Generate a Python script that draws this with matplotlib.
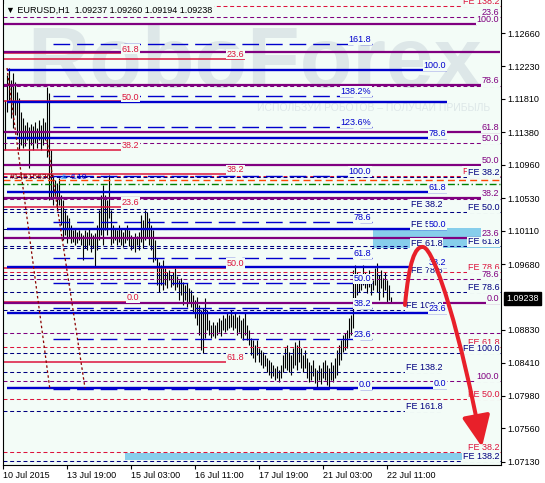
import matplotlib
matplotlib.use('Agg')
import matplotlib.pyplot as plt
from matplotlib.patches import Rectangle, FancyArrowPatch
from matplotlib.path import Path

plt.rcParams['font.family'] = ['Liberation Sans', 'DejaVu Sans']

BG = '#F3FCF7'
PURPLE = '#800080'
BLUE = '#0000CD'
NAVY = '#000080'
RED = '#DC143C'

# ---------------- data ----------------
highs = [
    1.1180, 1.1212, 1.1221, 1.1205, 1.1214, 1.1203, 1.1190, 1.1182, 1.1164, 1.1156,
    1.1147, 1.1151, 1.1145, 1.1149, 1.1146, 1.1151, 1.1144, 1.1154, 1.1147, 1.1156,
    1.1151, 1.1196, 1.1189, 1.1115, 1.1083, 1.1076, 1.1073, 1.1079, 1.1057, 1.1051,
    1.1038, 1.1031, 1.1027, 1.1018, 1.1012, 1.1015, 1.1009, 1.1012, 1.1008, 1.1006,
    1.1012, 1.1009, 1.1015, 1.1008, 1.1006, 1.1008, 1.1018, 1.1038, 1.1057, 1.1070,
    1.1057, 1.1051, 1.1083, 1.1038, 1.1018, 1.1015, 1.1012, 1.1018, 1.1015, 1.1009,
    1.1015, 1.1018, 1.1012, 1.1006, 1.1003, 1.1008, 1.1004, 1.1009, 1.1031, 1.1025,
    1.1038, 1.1035, 1.1027, 1.1018, 1.1012, 1.0999, 1.0976, 1.0971, 1.0967, 1.0973,
    1.0963, 1.0958, 1.0960, 1.0954, 1.0958, 1.0963, 1.0953, 1.0947, 1.0950, 1.0945,
    1.0941, 1.0944, 1.0937, 1.0935, 1.0928, 1.0922, 1.0926, 1.0915, 1.0909, 1.0911,
    1.0924, 1.0909, 1.0896, 1.0889, 1.0893, 1.0889, 1.0893, 1.0898, 1.0896, 1.0902,
    1.0898, 1.0906, 1.0902, 1.0909, 1.0902, 1.0906, 1.0900, 1.0902, 1.0896, 1.0898,
    1.0905, 1.0889, 1.0883, 1.0873, 1.0870, 1.0864, 1.0870, 1.0860, 1.0857, 1.0855,
    1.0851, 1.0847, 1.0844, 1.0842, 1.0838, 1.0834, 1.0836, 1.0831, 1.0838, 1.0851,
    1.0860, 1.0864, 1.0855, 1.0851, 1.0860, 1.0867, 1.0864, 1.0870, 1.0860, 1.0851,
    1.0857, 1.0847, 1.0842, 1.0838, 1.0844, 1.0834, 1.0831, 1.0838, 1.0834, 1.0842,
    1.0844, 1.0838, 1.0834, 1.0842, 1.0838, 1.0847, 1.0857, 1.0864, 1.0870, 1.0876,
    1.0879, 1.0883, 1.0898, 1.0902, 1.0960, 1.0967, 1.0958, 1.0947, 1.0954, 1.0967,
    1.0958, 1.0950, 1.0960, 1.0954, 1.0947, 1.0963, 1.0969, 1.0954, 1.0960, 1.0950,
    1.0958, 1.0947, 1.0941, 1.0926]

lows = [
    1.1115, 1.1164, 1.1180, 1.1156, 1.1144, 1.1160, 1.1134, 1.1115, 1.1122, 1.1118,
    1.1120, 1.1128, 1.1092, 1.1122, 1.1115, 1.1124, 1.1118, 1.1128, 1.1115, 1.1122,
    1.1128, 1.1106, 1.1051, 1.1055, 1.1044, 1.1057, 1.1038, 1.1044, 1.1018, 1.0999,
    1.1006, 1.0995, 1.1002, 1.0995, 1.0996, 1.0993, 1.0995, 1.0999, 1.0993, 1.0973,
    1.0989, 1.0986, 1.0993, 1.0984, 1.0989, 1.0964, 1.0986, 1.0999, 1.1006, 1.0993,
    1.1012, 1.1006, 1.1027, 1.0993, 1.0995, 1.0999, 1.0993, 1.0996, 1.0993, 1.0990,
    1.0995, 1.0999, 1.0991, 1.0986, 1.0989, 1.0984, 1.0993, 1.0986, 1.0996, 1.0989,
    1.0999, 1.1002, 1.0993, 1.0986, 1.0971, 1.0973, 1.0941, 1.0932, 1.0941, 1.0935,
    1.0941, 1.0937, 1.0947, 1.0938, 1.0941, 1.0935, 1.0938, 1.0922, 1.0928, 1.0915,
    1.0922, 1.0913, 1.0918, 1.0913, 1.0906, 1.0898, 1.0889, 1.0876, 1.0857, 1.0853,
    1.0873, 1.0883, 1.0876, 1.0873, 1.0875, 1.0873, 1.0876, 1.0880, 1.0875, 1.0883,
    1.0880, 1.0883, 1.0886, 1.0887, 1.0883, 1.0886, 1.0876, 1.0880, 1.0873, 1.0870,
    1.0876, 1.0870, 1.0864, 1.0851, 1.0847, 1.0842, 1.0851, 1.0842, 1.0838, 1.0834,
    1.0836, 1.0829, 1.0825, 1.0821, 1.0824, 1.0818, 1.0821, 1.0816, 1.0821, 1.0829,
    1.0834, 1.0831, 1.0829, 1.0825, 1.0834, 1.0838, 1.0831, 1.0842, 1.0834, 1.0829,
    1.0834, 1.0821, 1.0816, 1.0818, 1.0824, 1.0815, 1.0809, 1.0818, 1.0813, 1.0821,
    1.0818, 1.0812, 1.0809, 1.0818, 1.0816, 1.0821, 1.0825, 1.0838, 1.0844, 1.0855,
    1.0857, 1.0860, 1.0873, 1.0876, 1.0886, 1.0924, 1.0928, 1.0932, 1.0935, 1.0941,
    1.0937, 1.0931, 1.0938, 1.0928, 1.0935, 1.0941, 1.0932, 1.0922, 1.0937, 1.0926,
    1.0935, 1.0919, 1.0922, 1.0919]

x_tick_pos = [-1, 31, 63, 95, 127, 159, 191]
x_tick_labels = ['10 Jul 2015', '13 Jul 19:00', '15 Jul 03:00', '16 Jul 11:00',
                 '17 Jul 19:00', '21 Jul 03:00', '22 Jul 11:00']
y_ticks = [1.12660, 1.12230, 1.11810, 1.11380, 1.10960, 1.10530, 1.10110,
           1.09680, 1.08830, 1.08410, 1.07980, 1.07560, 1.07130]
last_price = 1.09238
title_text = '\u25BC EURUSD,H1  1.09237 1.09260 1.09194 1.09238'

# Fibonacci levels (prices) and their labels
purple_solid_levels = [1.12776, 1.12415, 1.11996, 1.11383, 1.10958, 1.10532, 1.10016, 1.09177]
purple_solid_labels = ['100.0', '', '78.6', '61.8', '50.0', '38.2', '23.6', '0.0']
purple_dash_levels = [1.12867, 1.11977, 1.11241, 1.10519, 1.09487, 1.08790, 1.08171]
purple_dash_labels = ['23.6', '38.2', '50.0', '61.8', '78.6', '', '100.0']
red_a_levels = [1.12396, 1.11777, 1.11151, 1.10416, 1.09190]
red_a_labels = ['61.8', '50.0', '38.2', '23.6', '0.0']
red_b_levels = [1.12331, 1.10841, 1.09629, 1.08416]
red_b_labels = ['23.6', '38.2', '50.0', '61.8']
blue_solid_levels = [1.12183, 1.11770, 1.11306, 1.10609, 1.10132, 1.09642, 1.09048, 1.08081]
blue_solid_labels = ['100.0', '', '78.6', '61.8', '50.0', '38.2', '23.6', '0.0']
blue_dash_levels = [1.12518, 1.11848, 1.11448, 1.10816, 1.10222, 1.09758, 1.09435,
                    1.09113, 1.08713, 1.08068]
blue_dash_labels = ['161.8', '138.2%', '123.6%', '100.0', '78.6', '61.8', '50.0',
                    '38.2', '23.6', '0.0']
navy1_levels = [1.10803, 1.10351, 1.09912, 1.09319, 1.08532, 1.07139]
navy1_labels = ['FE 38.2', 'FE 50.0', 'FE 61.8', 'FE 78.6', 'FE 100.0', 'FE 138.2']
navy2_levels = [1.10390, 1.10132, 1.09887, 1.09539, 1.09087, 1.08287, 1.07784]
navy2_labels = ['FE 38.2', 'FE 50.0', 'FE 61.8', 'FE 78.6', 'FE 100.0', 'FE 138.2', 'FE 161.8']
red_fe_levels = [1.13009, 1.10816, 1.09577, 1.08610, 1.07939, 1.07255]
red_fe_labels = ['FE 138.2', 'FE 100.0', 'FE 78.6', 'FE 61.8', 'FE 50.0', 'FE 38.2']
orange_level = 1.10764
green_level = 1.10712

# trend lines (bar index, price)
trend1_x = [1, 22.5]
trend1_y = [1.12209, 1.08055]
trend2_x = [21, 40]
trend2_y = [1.11280, 1.08081]

# target zones (x0, x1, y0, y1)
zones = [(184, 238.5, 1.10016, 1.10145),
         (184, 247.5, 1.09887, 1.10016),
         (60, 228.5, 1.07152, 1.07242)]

# forecast arrow (bar index, price) bezier anchors
fc_x = [200, 202, 205, 209, 215, 228.5, 238.5]
fc_y = [1.09152, 1.09706, 1.09913, 1.09900, 1.09887, 1.08700, 1.07320]

# ---------------- figure ----------------
W, H = 545, 483
fig = plt.figure(figsize=(W / 100, H / 100), dpi=100)
fig.patch.set_facecolor('white')
ax = fig.add_axes([3 / W, 18 / H, 498 / W, 465 / H])
ax.set_facecolor(BG)
ax.set_xlim(-1, 248)
ax.set_ylim(1.07088, 1.13086)

# watermark
ax.text(11, 1.11964, 'RoboForex', fontsize=62, fontweight='bold', color='#DDE7E8',
        ha='left', va='baseline', zorder=0.5)
ax.text(242.5, 1.11660, 'ИСПОЛЬЗУЙ РОБОТОВ – ПОЛУЧАЙ ПРИБЫЛЬ', fontsize=7.5,
        color='#DDE7E8', ha='right', va='baseline', zorder=0.5)

# price bars
ax.vlines(range(len(highs)), lows, highs, colors='black', lw=0.8, zorder=1.5)

# zones
for x0, x1, y0, y1 in zones:
    ax.add_patch(Rectangle((x0, y0), x1 - x0, y1 - y0, fc='#87CEEB', ec='none', zorder=1.8))

SHORT = (0, (3.8, 2.6))
LONG = (0, (12, 5))
LBL = dict(fontsize=6.5, ha='right', va='baseline', zorder=4, clip_on=True,
           bbox=dict(boxstyle='square,pad=0.08', fc=BG, ec='none'))

labels_to_draw = []


def hline(level, x0, x1, color, lw, ls, label='', z=2):
    ax.plot([x0, x1], [level, level], color=color, lw=lw, ls=ls, zorder=z,
            solid_capstyle='butt', dash_capstyle='butt')
    if label:
        labels_to_draw.append((label, x1, level, color))


# lines
for lv, lb in zip(red_fe_levels, red_fe_labels):
    hline(lv, -1, 247.5, RED, 0.75, SHORT, lb)
for lv, lb in zip(purple_dash_levels, purple_dash_labels):
    hline(lv, -1, 247.5, PURPLE, 0.75, SHORT, lb)
for lv, lb in zip(navy1_levels, navy1_labels):
    hline(lv, -1, 247.5, NAVY, 0.75, SHORT, lb)
for lv, lb in zip(navy2_levels, navy2_labels):
    hline(lv, -1, 219, NAVY, 0.75, SHORT, lb)
ax.plot([-1, 247.5], [orange_level] * 2, color='#FF4500', lw=1.0, ls=(0, (5, 3)), zorder=2)
ax.plot([-1, 247.5], [green_level] * 2, color='#008000', lw=1.0, ls=(0, (5, 2, 1, 2)), zorder=2)
for lv, lb in zip(red_a_levels, red_a_labels):
    hline(lv, -1, 67.5, RED, 1.1, '-', lb)
for lv, lb in zip(red_b_levels, red_b_labels):
    hline(lv, -1, 120, RED, 1.1, '-', lb)
for lv, lb in zip(purple_solid_levels, purple_solid_labels):
    x1 = 236 if lb == '100.0' else 247.5
    hline(lv, -1, x1, PURPLE, 1.6, '-', lb)
for lv, lb in zip(blue_dash_levels, blue_dash_labels):
    hline(lv, 24, 183.5, BLUE, 1.0, LONG, lb)
for lv, lb in zip(blue_solid_levels, blue_solid_labels):
    hline(lv, 1, 221, BLUE, 1.7, '-', lb)

for lb, x1, lv, col in labels_to_draw:
    if lb == '100.0' and col == PURPLE and lv > 1.127:
        ax.annotate(lb, xy=(247.5, lv), xytext=(-0.5, 1.3), textcoords='offset points',
                    color=col, **LBL)
    else:
        ax.annotate(lb, xy=(x1, lv), xytext=(-0.5, 1.3), textcoords='offset points',
                    color=col, **LBL)

# trend lines
for tx, ty in ((trend1_x, trend1_y), (trend2_x, trend2_y)):
    ax.plot(tx, ty, color='#8B0000', lw=0.9, ls=(0, (2, 2)), zorder=2.5)

# garbled object labels at left
ax.text(2.5, 1.10790, '#14515636', fontsize=6, color='#800000', va='center', zorder=4)
ax.text(27, 1.10800, '.&', fontsize=6, color='#1E90FF', va='center', zorder=4)
ax.text(33, 1.10790, '6.10', fontsize=6, color=BLUE, va='center', zorder=4)

# forecast arrow
verts = list(zip(fc_x, fc_y))
codes = [Path.MOVETO, Path.CURVE4, Path.CURVE4, Path.CURVE4, Path.CURVE4, Path.CURVE4, Path.CURVE4]
arrow = FancyArrowPatch(path=Path(verts, codes),
                        arrowstyle='-|>,head_length=19,head_width=8.5',
                        mutation_scale=1, lw=2.9, color='#E8202A', zorder=5)
ax.add_patch(arrow)

# axes styling
for s in ('left', 'right', 'bottom'):
    ax.spines[s].set_color('black')
    ax.spines[s].set_linewidth(0.8)
ax.spines['top'].set_visible(False)
ax.yaxis.tick_right()
ax.set_yticks(y_ticks)
ax.set_yticklabels(['%.5f' % v for v in y_ticks])
ax.tick_params(axis='y', direction='out', length=3, width=0.8, pad=1.5,
               labelsize=6.5, colors='black')
ax.set_xticks(x_tick_pos)
ax.set_xticklabels(x_tick_labels)
ax.tick_params(axis='x', direction='out', length=3, width=0.8, pad=1.5, labelsize=6.5)
for t in ax.get_xticklabels():
    t.set_ha('left')

# last price marker
ax.annotate('%.5f' % last_price, xy=(1, last_price), xycoords=('axes fraction', 'data'),
            xytext=(3.5, 0), textcoords='offset points', ha='left', va='center',
            color='white', fontsize=6.5, annotation_clip=False, zorder=6,
            bbox=dict(boxstyle='square,pad=0.25', fc='black', ec='black'))

# title
fig.text(6 / W, 1 - 10 / H, title_text, fontsize=6.5, color='black', ha='left', va='center',
         bbox=dict(boxstyle='square,pad=0.2', fc=BG, ec='none'))

fig.savefig('out.png', dpi=100, facecolor='white')
